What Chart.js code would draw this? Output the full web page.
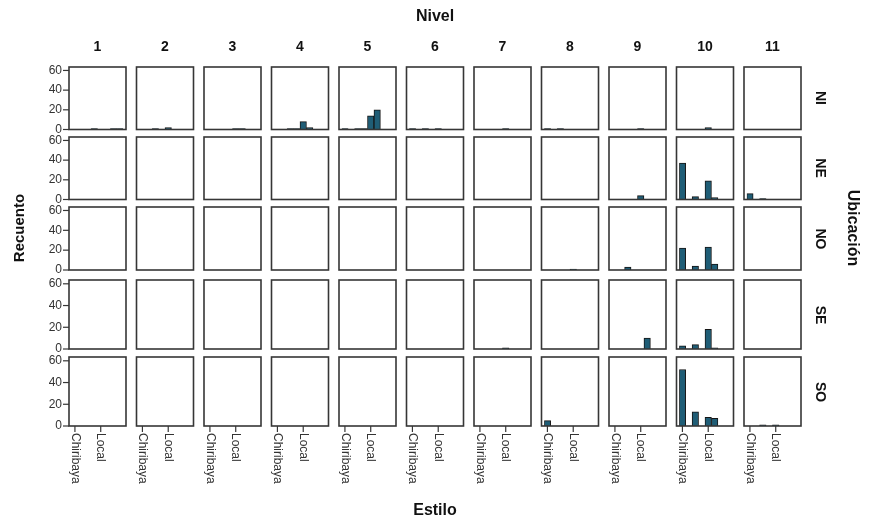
<!DOCTYPE html>
<html>
<head>
<meta charset="utf-8">
<script src="https://cdn.jsdelivr.net/npm/chart.js@4"></script>
<style>
  html, body { margin: 0; padding: 0; background: #fff; }
  #wrap { position: relative; width: 870px; height: 523px; overflow: hidden;
          font-family: "Liberation Sans", Arial, sans-serif; }
  #wrap canvas { position: absolute; }
  .lbl { position: absolute; font-weight: bold; color: #111; white-space: nowrap;
         transform-origin: center center; line-height: 1; }
</style>
</head>
<body>
<div id="wrap"></div>
<script>
// Panel columns (Nivel) and rows (Ubicación)
const niveles = ['1', '2', '3', '4', '5', '6', '7', '8', '9', '10', '11'];
const ubicaciones = ['NI', 'NE', 'NO', 'SE', 'SO'];

// Estilo slots along each panel's x axis; only two carry a tick label
const estiloTicks = ['Chiribaya', '', '', '', 'Local', '', '', ''];
const recuentoTicks = [0, 20, 40, 60];

// Recuento per Nivel (one inner array per Nivel, one value per Estilo slot)
const recuentoNI = [
  [0, 0, 0, 1, 0, 0, 1, 1],
  [0, 0, 1, 0, 2, 0, 0, 0],
  [0, 0, 0, 0, 1, 1, 0, 0],
  [0, 0, 1, 1, 8, 2, 0, 0],
  [1, 0, 1, 1, 14, 20, 0, 0],
  [1, 0, 1, 0, 1, 0, 0, 0],
  [0, 0, 0, 0, 1, 0, 0, 0],
  [1, 0, 1, 0, 0, 0, 0, 0],
  [0, 0, 0, 0, 1, 0, 0, 0],
  [0, 0, 0, 0, 2, 0, 0, 0],
  [0, 0, 0, 0, 0, 0, 0, 0]
];
const recuentoNE = [
  [0, 0, 0, 0, 0, 0, 0, 0],
  [0, 0, 0, 0, 0, 0, 0, 0],
  [0, 0, 0, 0, 0, 0, 0, 0],
  [0, 0, 0, 0, 0, 0, 0, 0],
  [0, 0, 0, 0, 0, 0, 0, 0],
  [0, 0, 0, 0, 0, 0, 0, 0],
  [0, 0, 0, 0, 0, 0, 0, 0],
  [0, 0, 0, 0, 0, 0, 0, 0],
  [0, 0, 0, 0, 4, 0, 0, 0],
  [37, 0, 3, 0, 19, 2, 0, 0],
  [6, 0, 1, 0, 0, 0, 0, 0]
];
const recuentoNO = [
  [0, 0, 0, 0, 0, 0, 0, 0],
  [0, 0, 0, 0, 0, 0, 0, 0],
  [0, 0, 0, 0, 0, 0, 0, 0],
  [0, 0, 0, 0, 0, 0, 0, 0],
  [0, 0, 0, 0, 0, 0, 0, 0],
  [0, 0, 0, 0, 0, 0, 0, 0],
  [0, 0, 0, 0, 0, 0, 0, 0],
  [0, 0, 0, 0, 1, 0, 0, 0],
  [0, 0, 3, 0, 0, 0, 0, 0],
  [22, 0, 4, 0, 23, 6, 0, 0],
  [0, 0, 0, 0, 0, 0, 0, 0]
];
const recuentoSE = [
  [0, 0, 0, 0, 0, 0, 0, 0],
  [0, 0, 0, 0, 0, 0, 0, 0],
  [0, 0, 0, 0, 0, 0, 0, 0],
  [0, 0, 0, 0, 0, 0, 0, 0],
  [0, 0, 0, 0, 0, 0, 0, 0],
  [0, 0, 0, 0, 0, 0, 0, 0],
  [0, 0, 0, 0, 1, 0, 0, 0],
  [0, 0, 0, 0, 0, 0, 0, 0],
  [0, 0, 0, 0, 0, 10, 0, 0],
  [3, 0, 4, 0, 18, 1, 0, 0],
  [0, 0, 0, 0, 0, 0, 0, 0]
];
const recuentoSO = [
  [0, 0, 0, 0, 0, 0, 0, 0],
  [0, 0, 0, 0, 0, 0, 0, 0],
  [0, 0, 0, 0, 0, 0, 0, 0],
  [0, 0, 0, 0, 0, 0, 0, 0],
  [0, 0, 0, 0, 0, 0, 0, 0],
  [0, 0, 0, 0, 0, 0, 0, 0],
  [0, 0, 0, 0, 0, 0, 0, 0],
  [5, 0, 0, 0, 0, 0, 0, 0],
  [0, 0, 0, 0, 0, 0, 0, 0],
  [52, 0, 13, 0, 8, 7, 0, 0],
  [0, 0, 1, 0, 1, 0, 0, 0]
];
const recuentoPorUbicacion = [recuentoNI, recuentoNE, recuentoNO, recuentoSE, recuentoSO];

// ---- layout of the panel grid ----
const FONT = '"Liberation Sans", Arial, sans-serif';
const COL_LEFT0 = 69, COL_STEP = 67.5, PANEL_W = 57;
const ROW_TOP = [67, 137, 207, 280, 357];
const ROW_BOTTOM = [129.5, 199.5, 270, 349, 426];
const INSET = 2.7;       // gap between the frame and the first/last bar slot
const Y_MAX = 63.5;
const BAR_FILL = '#1f5d76', BAR_EDGE = '#151515', FRAME = '#363636';

Chart.defaults.font.family = FONT;

// Frame round each panel, plus the outer tick marks and their labels
const panelFrame = {
  id: 'panelFrame',
  afterDatasetsDraw(chart, args, opts) {
    const { ctx, chartArea: a } = chart;
    const l = a.left - INSET, r = a.right + INSET;
    ctx.save();
    ctx.strokeStyle = FRAME;
    ctx.lineWidth = 1.6;
    ctx.strokeRect(l, a.top, r - l, a.bottom - a.top);
    ctx.lineWidth = 1.2;
    ctx.font = '12px ' + FONT;
    ctx.fillStyle = '#333';
    if (opts.yAxis) {
      const ys = chart.scales.y;
      ctx.textAlign = 'right';
      ctx.textBaseline = 'middle';
      ys.ticks.forEach(t => {
        const y = ys.getPixelForValue(t.value);
        ctx.beginPath();
        ctx.moveTo(l - 6, y); ctx.lineTo(l, y);
        ctx.stroke();
        ctx.fillText(String(t.value), l - 7, y);
      });
    }
    if (opts.xAxis) {
      const xs = chart.scales.x;
      ctx.textAlign = 'left';
      ctx.textBaseline = 'middle';
      xs.ticks.forEach(t => {
        const text = estiloTicks[t.value];
        if (!text) return;
        const x = xs.getPixelForValue(t.value);
        ctx.beginPath();
        ctx.moveTo(x, a.bottom); ctx.lineTo(x, a.bottom + 6);
        ctx.stroke();
        ctx.save();
        ctx.translate(x, a.bottom + 7);
        ctx.rotate(Math.PI / 2);
        ctx.fillText(text, 0, 0);
        ctx.restore();
      });
    }
    ctx.restore();
  }
};

const wrap = document.getElementById('wrap');

function addPanel(col, row) {
  const frameLeft = COL_LEFT0 + col * COL_STEP;
  const top = ROW_TOP[row], bottom = ROW_BOTTOM[row];
  const ML = 45, MR = 6, MT = 6, MB = row === ubicaciones.length - 1 ? 75 : 6;
  const cl = Math.floor(frameLeft) - ML;
  const cw = Math.ceil(frameLeft + PANEL_W) + MR - cl;
  const ct = Math.floor(top) - MT;
  const ch = Math.ceil(bottom) + MB - ct;

  const cv = document.createElement('canvas');
  cv.width = cw; cv.height = ch;
  cv.style.left = cl + 'px'; cv.style.top = ct + 'px';
  cv.style.width = cw + 'px'; cv.style.height = ch + 'px';
  wrap.appendChild(cv);

  new Chart(cv, {
    type: 'bar',
    data: {
      labels: estiloTicks.map((t, i) => t || ' '.repeat(i + 1)),
      datasets: [{
        data: recuentoPorUbicacion[row][col],
        backgroundColor: BAR_FILL,
        borderColor: BAR_EDGE,
        borderWidth: 1,
        borderSkipped: 'start',
        barPercentage: 1,
        categoryPercentage: 1
      }]
    },
    options: {
      responsive: false,
      animation: false,
      devicePixelRatio: 1,
      events: [],
      layout: {
        padding: {
          left: frameLeft + INSET - cl,
          right: cl + cw - (frameLeft + PANEL_W - INSET),
          top: top - ct,
          bottom: ct + ch - bottom
        }
      },
      plugins: {
        legend: { display: false },
        tooltip: { enabled: false },
        panelFrame: { yAxis: col === 0, xAxis: row === ubicaciones.length - 1 }
      },
      scales: {
        x: { type: 'category', display: false, offset: true, ticks: { autoSkip: false } },
        y: {
          display: false,
          min: 0, max: Y_MAX,
          afterBuildTicks: s => { s.ticks = recuentoTicks.map(v => ({ value: v })); }
        }
      }
    },
    plugins: [panelFrame]
  });
}

ubicaciones.forEach((u, r) => niveles.forEach((n, c) => addPanel(c, r)));

// ---- headings ----
function addText(text, x, y, size, rot) {
  const d = document.createElement('div');
  d.className = 'lbl';
  d.textContent = text;
  d.style.left = x + 'px';
  d.style.top = y + 'px';
  d.style.fontSize = size + 'px';
  d.style.transform = 'translate(-50%, -50%)' + (rot ? ' rotate(' + rot + 'deg)' : '');
  wrap.appendChild(d);
}

const gridMidX = (COL_LEFT0 + COL_LEFT0 + (niveles.length - 1) * COL_STEP + PANEL_W) / 2;
addText('Nivel', gridMidX, 16, 16);
niveles.forEach((n, c) => addText(n, COL_LEFT0 + c * COL_STEP + PANEL_W / 2, 46, 14));
ubicaciones.forEach((u, r) => addText(u, 821, (ROW_TOP[r] + ROW_BOTTOM[r]) / 2, 14, 90));
addText('Ubicación', 853, 228, 16, 90);
addText('Recuento', 18, 228, 15, -90);
addText('Estilo', gridMidX, 510, 16);
</script>
</body>
</html>
